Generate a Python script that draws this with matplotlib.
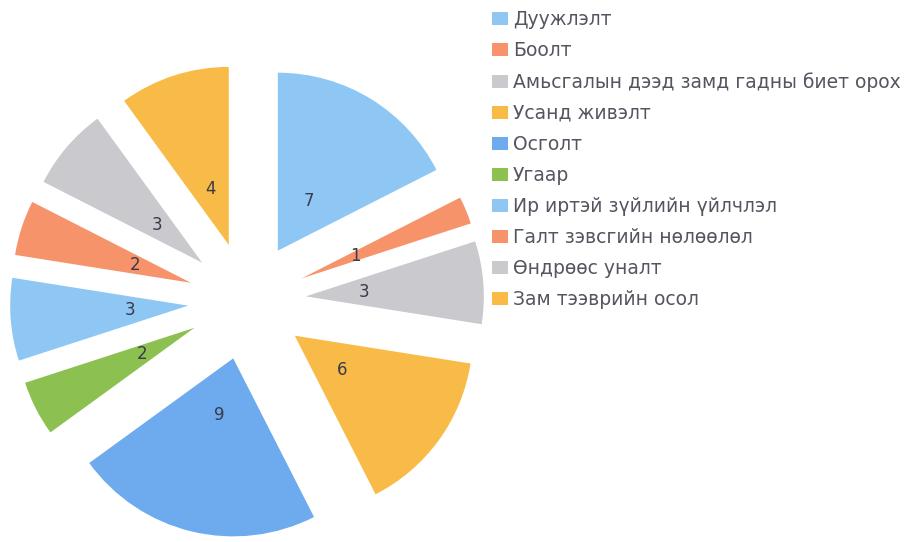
import matplotlib
matplotlib.use("Agg")
import matplotlib.pyplot as plt

categories = ["Дуужлэлт", "Боолт", "Амьсгалын дээд замд гадны биет орох",
              "Усанд живэлт", "Осголт", "Угаар", "Ир иртэй зүйлийн үйлчлэл",
              "Галт зэвсгийн нөлөөлөл", "Өндрөөс уналт", "Зам тээврийн осол"]
values = [7, 1, 3, 6, 9, 2, 3, 2, 3, 4]
colors = ["#8fc7f4", "#f7936a", "#c9c9ce", "#f8bb48", "#6eaaee",
          "#8cc152", "#8fc7f4", "#f7936a", "#c9c9ce", "#f8bb48"]

plt.rcParams['font.family'] = ['DejaVu Sans']

fig = plt.figure(figsize=(9.2, 5.42), dpi=100)
ax = fig.add_axes([0, 0, 1, 1])

cx, cy, r = 247, 241, 178
wedges, texts = ax.pie(values, colors=colors, startangle=90, counterclock=False,
                       center=(cx, cy), radius=r, explode=[59] * len(values),
                       labels=[str(v) for v in values], labeldistance=0.33,
                       textprops=dict(fontsize=12, color="#3a3a4a", ha="center", va="center"),
                       wedgeprops=dict(linewidth=0))
ax.set_xlim(0, 920)
ax.set_ylim(0, 542)
ax.set_aspect('equal')
ax.axis('off')

leg = fig.legend(wedges, categories, loc='upper left',
                 bbox_to_anchor=(492 / 920, 1 - 10 / 542), frameon=False,
                 fontsize=13.5, handlelength=0.85, handleheight=0.7,
                 handletextpad=0.27, labelspacing=0.64, borderpad=0, borderaxespad=0)
for t in leg.get_texts():
    t.set_color("#555560")

fig.savefig("out.png", dpi=100)
